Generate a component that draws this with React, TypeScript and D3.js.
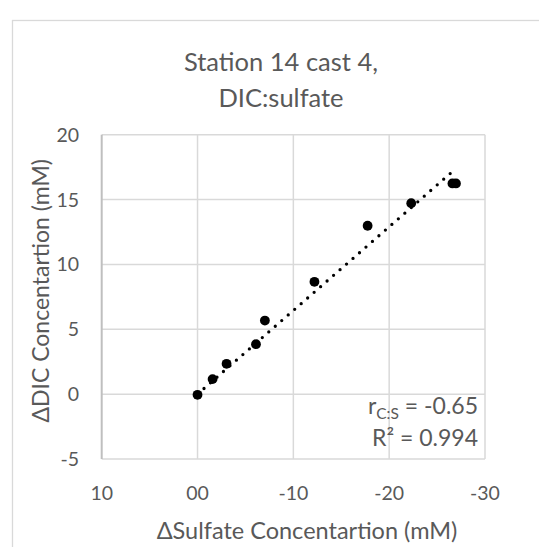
import React from "react";
import * as d3 from "d3";

// Change in sulfate (x) and DIC (y) relative to the shallowest sample, mM
const sulfateDelta = [0, -1.57, -3.03, -6.1, -7.03, -12.2, -17.75, -22.3, -26.6, -26.97];
const dicDelta = [-0.05, 1.16, 2.34, 3.85, 5.67, 8.66, 12.98, 14.72, 16.24, 16.24];

const xTicks = [10, 0, -10, -20, -30];
const yTicks = [-5, 0, 5, 10, 15, 20];

// Trendline through the origin: DIC = slope * sulfate
const trendSlope = -0.645;
const rSquared = 0.994;

const titleLines = ["Station 14 cast 4,", "DIC:sulfate"];
const xTitle = "\u0394Sulfate Concentartion (mM)";
const yTitle = "\u0394DIC Concentartion (mM)";

const W = 539;
const H = 547;
const plot = { left: 101.7, right: 485, top: 134.7, bottom: 459 };
const FONT = "Lato, 'Open Sans', sans-serif";
const TEXT = "#595959";
const GRID = "#d9d9d9";

// Two-digit tick format with a plain hyphen for negatives ("00", "-10")
const locale = d3.formatLocale({
  decimal: ".",
  thousands: ",",
  grouping: [3],
  currency: ["", ""],
  minus: "-",
});
const fmtX = locale.format("02d");

export default function App() {
  const x = d3.scaleLinear().domain([10, -30]).range([plot.left, plot.right]);
  const y = d3.scaleLinear().domain([-5, 20]).range([plot.bottom, plot.top]);

  const points = sulfateDelta.map((s, i) => ({ s, d: dicDelta[i] }));
  const sMin = d3.min(sulfateDelta) as number;
  const trend = d3
    .line<number>()
    .x((s) => x(s))
    .y((s) => y(trendSlope * s))([0, sMin]);

  return (
    <svg
      width={W}
      height={H}
      style={{ position: "absolute", left: 0, top: 0, background: "#fff" }}
      fontFamily={FONT}
    >
      <rect x={0} y={0} width={W} height={H} fill="#fff" />
      {/* chart area border */}
      <rect x={12.5} y={20.5} width={700} height={700} fill="none" stroke={GRID} strokeWidth={1.3} />

      {/* title */}
      {titleLines.map((t, i) => (
        <text key={t} x={281} y={70.5 + i * 36} textAnchor="middle" fontSize={25.5} fill={TEXT}>
          {t}
        </text>
      ))}

      {/* gridlines */}
      {yTicks.map((t) => (
        <line key={"gy" + t} x1={plot.left} x2={plot.right} y1={y(t)} y2={y(t)} stroke={GRID} strokeWidth={1.5} />
      ))}
      {xTicks.slice(1).map((t) => (
        <line key={"gx" + t} x1={x(t)} x2={x(t)} y1={plot.top} y2={plot.bottom} stroke={GRID} strokeWidth={1.5} />
      ))}
      {/* vertical axis line */}
      <line x1={plot.left} x2={plot.left} y1={plot.top} y2={plot.bottom} stroke="#bfbfbf" strokeWidth={2} />

      {/* tick labels */}
      {yTicks.map((t) => (
        <text key={"ty" + t} x={79} y={y(t)} dy="0.36em" textAnchor="end" fontSize={19.5} fill={TEXT}>
          {t}
        </text>
      ))}
      {xTicks.map((t) => (
        <text key={"tx" + t} x={x(t)} y={500} textAnchor="middle" fontSize={19.5} fill={TEXT}>
          {fmtX(t)}
        </text>
      ))}

      {/* axis titles */}
      <text x={307} y={539} textAnchor="middle" fontSize={23.5} fill={TEXT}>
        {xTitle}
      </text>
      <text
        transform={`translate(49, ${(plot.top + plot.bottom) / 2 - 6}) rotate(-90)`}
        textAnchor="middle"
        fontSize={23}
        fill={TEXT}
      >
        {yTitle}
      </text>

      {/* trendline */}
      <path
        d={trend ?? ""}
        fill="none"
        stroke="#000"
        strokeWidth={3.3}
        strokeLinecap="round"
        strokeDasharray="0 8.6"
      />

      {/* data points */}
      {points.map((p, i) => (
        <circle key={i} cx={x(p.s)} cy={y(p.d)} r={4.9} fill="#000" />
      ))}

      {/* trendline labels */}
      <text x={478} y={414} textAnchor="end" fontSize={23} fill={TEXT}>
        r<tspan fontSize={15.5} dy={5}>C:S</tspan>
        <tspan dy={-5}>{` = ${trendSlope.toFixed(2)}`}</tspan>
      </text>
      <text x={478} y={446} textAnchor="end" fontSize={23} fill={TEXT}>
        {`R\u00b2 = ${rSquared.toFixed(3)}`}
      </text>
    </svg>
  );
}
